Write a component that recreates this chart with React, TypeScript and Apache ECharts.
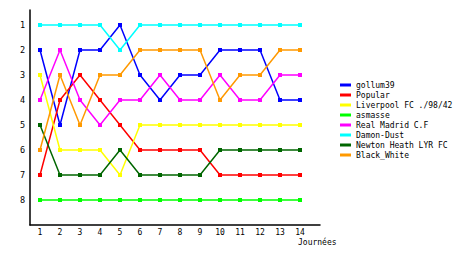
import React, { useEffect, useRef } from "react";
import * as echarts from "echarts";

const journees = [1, 2, 3, 4, 5, 6, 7, 8, 9, 10, 11, 12, 13, 14];
const rankTicks = [1, 2, 3, 4, 5, 6, 7, 8];

const teamNames = [
  "gollum39",
  "Popular",
  "Liverpool FC ./98/42",
  "asmasse",
  "Real Madrid C.F",
  "Damon-Dust",
  "Newton Heath LYR FC",
  "Black_White",
];
const teamColors = ["#0000ff", "#ff0000", "#ffff00", "#00ff00", "#ff00ff", "#00ffff", "#006600", "#ff9900"];

const gollum39 = [2, 5, 2, 2, 1, 3, 4, 3, 3, 2, 2, 2, 4, 4];
const popular = [7, 4, 3, 4, 5, 6, 6, 6, 6, 7, 7, 7, 7, 7];
const liverpool = [3, 6, 6, 6, 7, 5, 5, 5, 5, 5, 5, 5, 5, 5];
const asmasse = [8, 8, 8, 8, 8, 8, 8, 8, 8, 8, 8, 8, 8, 8];
const realMadrid = [4, 2, 4, 5, 4, 4, 3, 4, 4, 3, 4, 4, 3, 3];
const damonDust = [1, 1, 1, 1, 2, 1, 1, 1, 1, 1, 1, 1, 1, 1];
const newtonHeath = [5, 7, 7, 7, 6, 7, 7, 7, 7, 6, 6, 6, 6, 6];
const blackWhite = [6, 3, 5, 3, 3, 2, 2, 2, 2, 4, 3, 3, 2, 2];

const teamRanks = [gollum39, popular, liverpool, asmasse, realMadrid, damonDust, newtonHeath, blackWhite];

const FONT = "DejaVu Sans Mono";

export default function App() {
  const ref = useRef<HTMLDivElement>(null);
  useEffect(() => {
    if (!ref.current) return;
    const chart = echarts.init(ref.current, null, { renderer: "svg" });
    const series = teamNames.map((name, i) => ({
      name,
      type: "line",
      data: journees.map((j, k) => [j, teamRanks[i][k]]),
      symbol: "rect",
      symbolSize: 4,
      showSymbol: true,
      lineStyle: { color: teamColors[i], width: 1.5 },
      itemStyle: { color: teamColors[i] },
      emphasis: { disabled: true },
    }));
    chart.setOption({
      animation: false,
      backgroundColor: "#ffffff",
      grid: { left: 30, top: 10, width: 290, height: 215, containLabel: false },
      xAxis: {
        type: "value",
        min: 0.5,
        max: 15,
        axisLine: { show: true, lineStyle: { color: "#000", width: 1.5 } },
        axisTick: { show: false },
        splitLine: { show: false },
        axisLabel: {
          customValues: journees,
          color: "#000",
          fontFamily: FONT,
          fontSize: 8,
          margin: 3,
        },
      },
      yAxis: {
        type: "value",
        inverse: true,
        min: 0.4,
        max: 9,
        axisLine: { show: true, lineStyle: { color: "#000", width: 1.5 } },
        axisTick: { show: false },
        splitLine: { show: false },
        axisLabel: {
          customValues: rankTicks,
          color: "#000",
          fontFamily: FONT,
          fontSize: 8.5,
          margin: 5,
        },
      },
      legend: {
        orient: "vertical",
        left: 340,
        top: 80,
        padding: 0,
        icon: "rect",
        itemWidth: 11,
        itemHeight: 3,
        itemGap: 0,
        selectedMode: false,
        data: teamNames.map((n, i) => ({ name: n, itemStyle: { color: teamColors[i] } })),
        textStyle: {
          color: "#000",
          fontFamily: FONT,
          fontSize: 8,
          lineHeight: 5,
          padding: [5, 0, 0, 0],
        },
      },
      graphic: [
        {
          type: "text",
          left: 298,
          top: 238,
          style: { text: "Journées", fill: "#000", font: `8px "${FONT}"` },
        },
      ],
      series,
    });
    return () => chart.dispose();
  }, []);
  return (
    <div
      ref={ref}
      style={{ position: "fixed", left: 0, top: 0, width: 460, height: 255, background: "#fff" }}
    />
  );
}
